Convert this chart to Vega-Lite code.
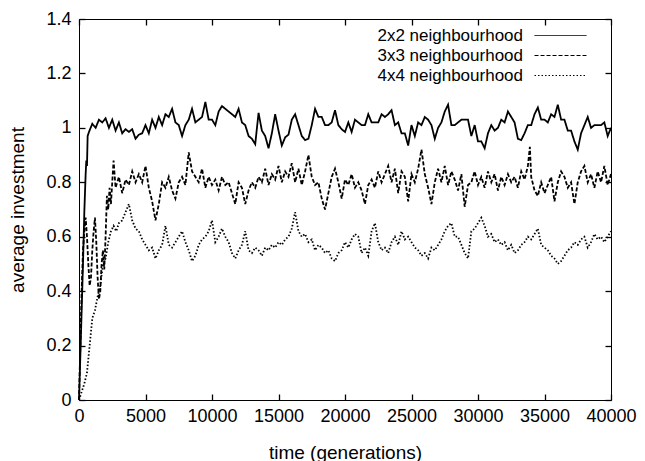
{
"$schema": "https://vega.github.io/schema/vega-lite/v6.json",
"width": 532, "height": 381,
"autosize": {"type": "none"},
"padding": {"left": 79, "top": 19, "right": 34, "bottom": 61},
"config": {
  "view": {"stroke": "black", "strokeWidth": 1},
  "font": "Liberation Sans",
  "axis": {"grid": false, "labelColor": "black", "titleColor": "black", "labelFontSize": 18, "titleFontSize": 19, "titleFontWeight": "normal", "labelFont": "Liberation Sans", "titleFont": "Liberation Sans"}
},
"datasets": {
"d": [
{"t":0,"s":"2x2","v":0},{"t":100,"s":"2x2","v":0.16},{"t":200,"s":"2x2","v":0.33},{"t":300,"s":"2x2","v":0.5},{"t":400,"s":"2x2","v":0.69},{"t":500,"s":"2x2","v":0.83},{"t":550,"s":"2x2","v":0.88},{"t":600,"s":"2x2","v":0.86},{"t":650,"s":"2x2","v":0.97},{"t":750,"s":"2x2","v":0.985},
{"t":1000,"s":"2x2","v":1.015},{"t":1250,"s":"2x2","v":1.0},{"t":1500,"s":"2x2","v":1.03},{"t":1750,"s":"2x2","v":1.02},{"t":2000,"s":"2x2","v":1.035},{"t":2250,"s":"2x2","v":1.0},{"t":2500,"s":"2x2","v":1.03},{"t":2750,"s":"2x2","v":0.99},{"t":3000,"s":"2x2","v":1.02},{"t":3250,"s":"2x2","v":0.98},{"t":3500,"s":"2x2","v":0.995},{"t":3750,"s":"2x2","v":0.985},{"t":4000,"s":"2x2","v":0.995},{"t":4250,"s":"2x2","v":0.96},{"t":4500,"s":"2x2","v":0.975},{"t":4750,"s":"2x2","v":0.98},
{"t":5000,"s":"2x2","v":1.01},{"t":5250,"s":"2x2","v":0.98},{"t":5500,"s":"2x2","v":1.03},{"t":5750,"s":"2x2","v":1.0},{"t":6000,"s":"2x2","v":1.04},{"t":6250,"s":"2x2","v":1.01},{"t":6500,"s":"2x2","v":1.05},{"t":6750,"s":"2x2","v":1.04},{"t":7000,"s":"2x2","v":1.07},{"t":7250,"s":"2x2","v":1.02},{"t":7500,"s":"2x2","v":1.01},{"t":7750,"s":"2x2","v":0.97},{"t":8000,"s":"2x2","v":1.01},{"t":8250,"s":"2x2","v":1.03},{"t":8500,"s":"2x2","v":1.07},{"t":8750,"s":"2x2","v":1.02},{"t":9000,"s":"2x2","v":1.03},{"t":9250,"s":"2x2","v":1.04},{"t":9500,"s":"2x2","v":1.095},{"t":9750,"s":"2x2","v":1.03},
{"t":10000,"s":"2x2","v":1.03},{"t":10250,"s":"2x2","v":1.01},{"t":10500,"s":"2x2","v":1.06},{"t":10750,"s":"2x2","v":1.08},{"t":11000,"s":"2x2","v":1.07},{"t":11250,"s":"2x2","v":1.06},{"t":11500,"s":"2x2","v":1.05},{"t":11750,"s":"2x2","v":1.04},{"t":12000,"s":"2x2","v":1.07},{"t":12250,"s":"2x2","v":1.02},{"t":12500,"s":"2x2","v":1.01},{"t":12750,"s":"2x2","v":0.97},{"t":13000,"s":"2x2","v":0.96},{"t":13250,"s":"2x2","v":0.94},{"t":13500,"s":"2x2","v":1.055},{"t":13750,"s":"2x2","v":0.99},{"t":14000,"s":"2x2","v":0.97},{"t":14250,"s":"2x2","v":0.925},{"t":14500,"s":"2x2","v":0.98},{"t":14750,"s":"2x2","v":1.05},
{"t":15000,"s":"2x2","v":0.99},{"t":15250,"s":"2x2","v":0.935},{"t":15500,"s":"2x2","v":0.965},{"t":15750,"s":"2x2","v":0.975},{"t":16000,"s":"2x2","v":1.03},{"t":16250,"s":"2x2","v":1.05},{"t":16500,"s":"2x2","v":1.01},{"t":16750,"s":"2x2","v":0.97},{"t":17000,"s":"2x2","v":0.955},{"t":17250,"s":"2x2","v":0.96},{"t":17500,"s":"2x2","v":1.01},{"t":17750,"s":"2x2","v":1.07},{"t":18000,"s":"2x2","v":1.04},{"t":18250,"s":"2x2","v":1.04},{"t":18500,"s":"2x2","v":1.01},{"t":18750,"s":"2x2","v":1.01},{"t":19000,"s":"2x2","v":1.02},{"t":19250,"s":"2x2","v":1.065},{"t":19500,"s":"2x2","v":1.01},{"t":19750,"s":"2x2","v":0.995},
{"t":20000,"s":"2x2","v":0.985},{"t":20250,"s":"2x2","v":1.02},{"t":20500,"s":"2x2","v":0.985},{"t":20750,"s":"2x2","v":1.03},{"t":21000,"s":"2x2","v":1.02},{"t":21250,"s":"2x2","v":1.01},{"t":21500,"s":"2x2","v":1.01},{"t":21750,"s":"2x2","v":1.05},{"t":22000,"s":"2x2","v":1.02},{"t":22250,"s":"2x2","v":1.02},{"t":22500,"s":"2x2","v":1.02},{"t":22750,"s":"2x2","v":1.05},{"t":23000,"s":"2x2","v":1.04},{"t":23250,"s":"2x2","v":1.05},{"t":23500,"s":"2x2","v":1.065},{"t":23750,"s":"2x2","v":1.01},{"t":24000,"s":"2x2","v":1.02},{"t":24250,"s":"2x2","v":0.98},{"t":24500,"s":"2x2","v":0.98},{"t":24750,"s":"2x2","v":0.935},
{"t":25000,"s":"2x2","v":1.01},{"t":25250,"s":"2x2","v":0.97},{"t":25500,"s":"2x2","v":1.02},{"t":25750,"s":"2x2","v":1.01},{"t":26000,"s":"2x2","v":1.04},{"t":26250,"s":"2x2","v":1.03},{"t":26500,"s":"2x2","v":1.01},{"t":26750,"s":"2x2","v":0.96},{"t":27000,"s":"2x2","v":1.0},{"t":27250,"s":"2x2","v":1.02},{"t":27500,"s":"2x2","v":1.06},{"t":27750,"s":"2x2","v":1.085},{"t":28000,"s":"2x2","v":1.01},{"t":28250,"s":"2x2","v":1.01},{"t":28500,"s":"2x2","v":1.02},{"t":28750,"s":"2x2","v":1.03},{"t":29000,"s":"2x2","v":1.03},{"t":29250,"s":"2x2","v":1.03},{"t":29500,"s":"2x2","v":0.97},{"t":29750,"s":"2x2","v":1.01},
{"t":30000,"s":"2x2","v":0.95},{"t":30250,"s":"2x2","v":0.95},{"t":30500,"s":"2x2","v":0.925},{"t":30750,"s":"2x2","v":0.98},{"t":31000,"s":"2x2","v":1.01},{"t":31250,"s":"2x2","v":0.99},{"t":31500,"s":"2x2","v":1.0},{"t":31750,"s":"2x2","v":1.03},{"t":32000,"s":"2x2","v":1.02},{"t":32250,"s":"2x2","v":1.06},{"t":32500,"s":"2x2","v":1.04},{"t":32750,"s":"2x2","v":1.02},{"t":33000,"s":"2x2","v":0.96},{"t":33250,"s":"2x2","v":0.955},{"t":33500,"s":"2x2","v":0.98},{"t":33750,"s":"2x2","v":1.01},{"t":34000,"s":"2x2","v":1.01},{"t":34250,"s":"2x2","v":1.05},{"t":34500,"s":"2x2","v":1.075},{"t":34750,"s":"2x2","v":1.03},
{"t":35000,"s":"2x2","v":1.03},{"t":35250,"s":"2x2","v":1.02},{"t":35500,"s":"2x2","v":1.05},{"t":35750,"s":"2x2","v":1.04},{"t":36000,"s":"2x2","v":1.085},{"t":36250,"s":"2x2","v":1.03},{"t":36500,"s":"2x2","v":1.03},{"t":36750,"s":"2x2","v":0.99},{"t":37000,"s":"2x2","v":0.99},{"t":37250,"s":"2x2","v":0.95},{"t":37500,"s":"2x2","v":0.92},{"t":37750,"s":"2x2","v":0.98},{"t":38000,"s":"2x2","v":1.01},{"t":38250,"s":"2x2","v":1.04},{"t":38500,"s":"2x2","v":1.0},{"t":38750,"s":"2x2","v":1.01},{"t":39000,"s":"2x2","v":1.01},{"t":39250,"s":"2x2","v":1.01},{"t":39500,"s":"2x2","v":1.02},{"t":39750,"s":"2x2","v":0.97},{"t":40000,"s":"2x2","v":1.0},

{"t":0,"s":"3x3","v":0},{"t":100,"s":"3x3","v":0.2},{"t":200,"s":"3x3","v":0.4},{"t":300,"s":"3x3","v":0.55},{"t":400,"s":"3x3","v":0.62},{"t":500,"s":"3x3","v":0.67},{"t":600,"s":"3x3","v":0.6},{"t":700,"s":"3x3","v":0.5},{"t":800,"s":"3x3","v":0.42},{"t":900,"s":"3x3","v":0.45},{"t":1000,"s":"3x3","v":0.55},{"t":1100,"s":"3x3","v":0.62},{"t":1200,"s":"3x3","v":0.67},{"t":1300,"s":"3x3","v":0.58},{"t":1400,"s":"3x3","v":0.45},{"t":1500,"s":"3x3","v":0.37},{"t":1600,"s":"3x3","v":0.4},{"t":1700,"s":"3x3","v":0.5},{"t":1800,"s":"3x3","v":0.55},{"t":1900,"s":"3x3","v":0.48},{"t":2000,"s":"3x3","v":0.6},{"t":2100,"s":"3x3","v":0.75},{"t":2200,"s":"3x3","v":0.7},{"t":2300,"s":"3x3","v":0.78},{"t":2400,"s":"3x3","v":0.72},{"t":2500,"s":"3x3","v":0.8},{"t":2600,"s":"3x3","v":0.88},{"t":2750,"s":"3x3","v":0.78},
{"t":3000,"s":"3x3","v":0.82},{"t":3250,"s":"3x3","v":0.76},{"t":3500,"s":"3x3","v":0.81},{"t":3750,"s":"3x3","v":0.79},{"t":4000,"s":"3x3","v":0.84},{"t":4250,"s":"3x3","v":0.8},{"t":4500,"s":"3x3","v":0.83},{"t":4750,"s":"3x3","v":0.8},{"t":5000,"s":"3x3","v":0.86},{"t":5250,"s":"3x3","v":0.78},{"t":5500,"s":"3x3","v":0.73},{"t":5750,"s":"3x3","v":0.66},{"t":6000,"s":"3x3","v":0.72},{"t":6250,"s":"3x3","v":0.8},{"t":6500,"s":"3x3","v":0.78},{"t":6750,"s":"3x3","v":0.82},{"t":7000,"s":"3x3","v":0.77},{"t":7250,"s":"3x3","v":0.74},{"t":7500,"s":"3x3","v":0.8},{"t":7750,"s":"3x3","v":0.82},{"t":8000,"s":"3x3","v":0.79},{"t":8250,"s":"3x3","v":0.91},{"t":8500,"s":"3x3","v":0.84},{"t":8750,"s":"3x3","v":0.82},{"t":9000,"s":"3x3","v":0.8},{"t":9250,"s":"3x3","v":0.85},{"t":9500,"s":"3x3","v":0.78},{"t":9750,"s":"3x3","v":0.82},
{"t":10000,"s":"3x3","v":0.79},{"t":10250,"s":"3x3","v":0.81},{"t":10500,"s":"3x3","v":0.77},{"t":10750,"s":"3x3","v":0.82},{"t":11000,"s":"3x3","v":0.79},{"t":11250,"s":"3x3","v":0.8},{"t":11500,"s":"3x3","v":0.76},{"t":11750,"s":"3x3","v":0.72},{"t":12000,"s":"3x3","v":0.8},{"t":12250,"s":"3x3","v":0.78},{"t":12500,"s":"3x3","v":0.72},{"t":12750,"s":"3x3","v":0.77},{"t":13000,"s":"3x3","v":0.8},{"t":13250,"s":"3x3","v":0.78},{"t":13500,"s":"3x3","v":0.82},{"t":13750,"s":"3x3","v":0.8},{"t":14000,"s":"3x3","v":0.85},{"t":14250,"s":"3x3","v":0.79},{"t":14500,"s":"3x3","v":0.83},{"t":14750,"s":"3x3","v":0.81},
{"t":15000,"s":"3x3","v":0.86},{"t":15250,"s":"3x3","v":0.8},{"t":15500,"s":"3x3","v":0.84},{"t":15750,"s":"3x3","v":0.82},{"t":16000,"s":"3x3","v":0.87},{"t":16250,"s":"3x3","v":0.8},{"t":16500,"s":"3x3","v":0.85},{"t":16750,"s":"3x3","v":0.79},{"t":17000,"s":"3x3","v":0.84},{"t":17250,"s":"3x3","v":0.9},{"t":17500,"s":"3x3","v":0.82},{"t":17750,"s":"3x3","v":0.79},{"t":18000,"s":"3x3","v":0.8},{"t":18250,"s":"3x3","v":0.74},{"t":18500,"s":"3x3","v":0.7},{"t":18750,"s":"3x3","v":0.76},{"t":19000,"s":"3x3","v":0.82},{"t":19250,"s":"3x3","v":0.85},{"t":19500,"s":"3x3","v":0.8},{"t":19750,"s":"3x3","v":0.74},
{"t":20000,"s":"3x3","v":0.81},{"t":20250,"s":"3x3","v":0.79},{"t":20500,"s":"3x3","v":0.83},{"t":20750,"s":"3x3","v":0.78},{"t":21000,"s":"3x3","v":0.8},{"t":21250,"s":"3x3","v":0.77},{"t":21500,"s":"3x3","v":0.72},{"t":21750,"s":"3x3","v":0.79},{"t":22000,"s":"3x3","v":0.81},{"t":22250,"s":"3x3","v":0.78},{"t":22500,"s":"3x3","v":0.84},{"t":22750,"s":"3x3","v":0.8},{"t":23000,"s":"3x3","v":0.83},{"t":23250,"s":"3x3","v":0.86},{"t":23500,"s":"3x3","v":0.8},{"t":23750,"s":"3x3","v":0.85},{"t":24000,"s":"3x3","v":0.76},{"t":24250,"s":"3x3","v":0.84},{"t":24500,"s":"3x3","v":0.82},{"t":24750,"s":"3x3","v":0.73},
{"t":25000,"s":"3x3","v":0.83},{"t":25250,"s":"3x3","v":0.8},{"t":25500,"s":"3x3","v":0.85},{"t":25750,"s":"3x3","v":0.92},{"t":26000,"s":"3x3","v":0.83},{"t":26250,"s":"3x3","v":0.78},{"t":26500,"s":"3x3","v":0.72},{"t":26750,"s":"3x3","v":0.8},{"t":27000,"s":"3x3","v":0.85},{"t":27250,"s":"3x3","v":0.8},{"t":27500,"s":"3x3","v":0.86},{"t":27750,"s":"3x3","v":0.79},{"t":28000,"s":"3x3","v":0.84},{"t":28250,"s":"3x3","v":0.81},{"t":28500,"s":"3x3","v":0.77},{"t":28750,"s":"3x3","v":0.83},{"t":29000,"s":"3x3","v":0.71},{"t":29250,"s":"3x3","v":0.79},{"t":29500,"s":"3x3","v":0.8},{"t":29750,"s":"3x3","v":0.84},
{"t":30000,"s":"3x3","v":0.79},{"t":30250,"s":"3x3","v":0.82},{"t":30500,"s":"3x3","v":0.78},{"t":30750,"s":"3x3","v":0.84},{"t":31000,"s":"3x3","v":0.8},{"t":31250,"s":"3x3","v":0.83},{"t":31500,"s":"3x3","v":0.77},{"t":31750,"s":"3x3","v":0.82},{"t":32000,"s":"3x3","v":0.79},{"t":32250,"s":"3x3","v":0.83},{"t":32500,"s":"3x3","v":0.8},{"t":32750,"s":"3x3","v":0.82},{"t":33000,"s":"3x3","v":0.78},{"t":33250,"s":"3x3","v":0.84},{"t":33500,"s":"3x3","v":0.81},{"t":33750,"s":"3x3","v":0.86},{"t":33900,"s":"3x3","v":0.93},{"t":34000,"s":"3x3","v":0.82},{"t":34250,"s":"3x3","v":0.77},{"t":34500,"s":"3x3","v":0.75},{"t":34750,"s":"3x3","v":0.8},
{"t":35000,"s":"3x3","v":0.76},{"t":35250,"s":"3x3","v":0.79},{"t":35500,"s":"3x3","v":0.82},{"t":35750,"s":"3x3","v":0.73},{"t":36000,"s":"3x3","v":0.8},{"t":36250,"s":"3x3","v":0.84},{"t":36500,"s":"3x3","v":0.82},{"t":36750,"s":"3x3","v":0.78},{"t":37000,"s":"3x3","v":0.8},{"t":37250,"s":"3x3","v":0.72},{"t":37500,"s":"3x3","v":0.8},{"t":37750,"s":"3x3","v":0.84},{"t":38000,"s":"3x3","v":0.86},{"t":38250,"s":"3x3","v":0.8},{"t":38500,"s":"3x3","v":0.83},{"t":38750,"s":"3x3","v":0.78},{"t":39000,"s":"3x3","v":0.84},{"t":39250,"s":"3x3","v":0.8},{"t":39500,"s":"3x3","v":0.86},{"t":39750,"s":"3x3","v":0.79},{"t":40000,"s":"3x3","v":0.83},

{"t":0,"s":"4x4","v":0},{"t":200,"s":"4x4","v":0.03},{"t":400,"s":"4x4","v":0.06},{"t":600,"s":"4x4","v":0.1},{"t":800,"s":"4x4","v":0.2},{"t":1000,"s":"4x4","v":0.3},{"t":1200,"s":"4x4","v":0.33},{"t":1400,"s":"4x4","v":0.38},{"t":1600,"s":"4x4","v":0.42},{"t":1800,"s":"4x4","v":0.5},{"t":2000,"s":"4x4","v":0.52},{"t":2200,"s":"4x4","v":0.58},{"t":2400,"s":"4x4","v":0.62},{"t":2600,"s":"4x4","v":0.64},{"t":2800,"s":"4x4","v":0.62},{"t":3000,"s":"4x4","v":0.65},{"t":3250,"s":"4x4","v":0.66},{"t":3500,"s":"4x4","v":0.69},{"t":3750,"s":"4x4","v":0.72},{"t":4000,"s":"4x4","v":0.66},{"t":4250,"s":"4x4","v":0.63},{"t":4500,"s":"4x4","v":0.62},{"t":4750,"s":"4x4","v":0.59},
{"t":5000,"s":"4x4","v":0.57},{"t":5250,"s":"4x4","v":0.55},{"t":5500,"s":"4x4","v":0.56},{"t":5750,"s":"4x4","v":0.52},{"t":6000,"s":"4x4","v":0.55},{"t":6250,"s":"4x4","v":0.57},{"t":6500,"s":"4x4","v":0.64},{"t":6750,"s":"4x4","v":0.57},{"t":7000,"s":"4x4","v":0.56},{"t":7250,"s":"4x4","v":0.58},{"t":7500,"s":"4x4","v":0.6},{"t":7750,"s":"4x4","v":0.62},{"t":8000,"s":"4x4","v":0.58},{"t":8250,"s":"4x4","v":0.55},{"t":8500,"s":"4x4","v":0.51},{"t":8750,"s":"4x4","v":0.53},{"t":9000,"s":"4x4","v":0.57},{"t":9250,"s":"4x4","v":0.59},{"t":9500,"s":"4x4","v":0.6},{"t":9750,"s":"4x4","v":0.62},
{"t":10000,"s":"4x4","v":0.66},{"t":10250,"s":"4x4","v":0.58},{"t":10500,"s":"4x4","v":0.6},{"t":10750,"s":"4x4","v":0.63},{"t":11000,"s":"4x4","v":0.6},{"t":11250,"s":"4x4","v":0.58},{"t":11500,"s":"4x4","v":0.54},{"t":11750,"s":"4x4","v":0.52},{"t":12000,"s":"4x4","v":0.55},{"t":12250,"s":"4x4","v":0.57},{"t":12500,"s":"4x4","v":0.62},{"t":12750,"s":"4x4","v":0.55},{"t":13000,"s":"4x4","v":0.54},{"t":13250,"s":"4x4","v":0.56},{"t":13500,"s":"4x4","v":0.55},{"t":13750,"s":"4x4","v":0.53},{"t":14000,"s":"4x4","v":0.56},{"t":14250,"s":"4x4","v":0.55},{"t":14500,"s":"4x4","v":0.57},{"t":14750,"s":"4x4","v":0.56},
{"t":15000,"s":"4x4","v":0.58},{"t":15250,"s":"4x4","v":0.57},{"t":15500,"s":"4x4","v":0.59},{"t":15750,"s":"4x4","v":0.6},{"t":16000,"s":"4x4","v":0.63},{"t":16250,"s":"4x4","v":0.69},{"t":16500,"s":"4x4","v":0.62},{"t":16750,"s":"4x4","v":0.6},{"t":17000,"s":"4x4","v":0.61},{"t":17250,"s":"4x4","v":0.58},{"t":17500,"s":"4x4","v":0.59},{"t":17750,"s":"4x4","v":0.55},{"t":18000,"s":"4x4","v":0.57},{"t":18250,"s":"4x4","v":0.56},{"t":18500,"s":"4x4","v":0.54},{"t":18750,"s":"4x4","v":0.55},{"t":19000,"s":"4x4","v":0.52},{"t":19250,"s":"4x4","v":0.51},{"t":19500,"s":"4x4","v":0.54},{"t":19750,"s":"4x4","v":0.55},
{"t":20000,"s":"4x4","v":0.58},{"t":20250,"s":"4x4","v":0.56},{"t":20500,"s":"4x4","v":0.59},{"t":20750,"s":"4x4","v":0.61},{"t":21000,"s":"4x4","v":0.6},{"t":21250,"s":"4x4","v":0.54},{"t":21500,"s":"4x4","v":0.56},{"t":21750,"s":"4x4","v":0.53},{"t":22000,"s":"4x4","v":0.62},{"t":22250,"s":"4x4","v":0.65},{"t":22500,"s":"4x4","v":0.58},{"t":22750,"s":"4x4","v":0.55},{"t":23000,"s":"4x4","v":0.56},{"t":23250,"s":"4x4","v":0.54},{"t":23500,"s":"4x4","v":0.58},{"t":23750,"s":"4x4","v":0.6},{"t":24000,"s":"4x4","v":0.57},{"t":24250,"s":"4x4","v":0.62},{"t":24500,"s":"4x4","v":0.59},{"t":24750,"s":"4x4","v":0.6},
{"t":25000,"s":"4x4","v":0.58},{"t":25250,"s":"4x4","v":0.56},{"t":25500,"s":"4x4","v":0.55},{"t":25750,"s":"4x4","v":0.53},{"t":26000,"s":"4x4","v":0.54},{"t":26250,"s":"4x4","v":0.52},{"t":26500,"s":"4x4","v":0.56},{"t":26750,"s":"4x4","v":0.55},{"t":27000,"s":"4x4","v":0.57},{"t":27250,"s":"4x4","v":0.59},{"t":27500,"s":"4x4","v":0.62},{"t":27750,"s":"4x4","v":0.64},{"t":28000,"s":"4x4","v":0.65},{"t":28250,"s":"4x4","v":0.6},{"t":28500,"s":"4x4","v":0.6},{"t":28750,"s":"4x4","v":0.57},{"t":29000,"s":"4x4","v":0.54},{"t":29250,"s":"4x4","v":0.52},{"t":29500,"s":"4x4","v":0.62},{"t":29750,"s":"4x4","v":0.63},
{"t":30000,"s":"4x4","v":0.65},{"t":30250,"s":"4x4","v":0.67},{"t":30500,"s":"4x4","v":0.64},{"t":30750,"s":"4x4","v":0.6},{"t":31000,"s":"4x4","v":0.61},{"t":31250,"s":"4x4","v":0.58},{"t":31500,"s":"4x4","v":0.59},{"t":31750,"s":"4x4","v":0.57},{"t":32000,"s":"4x4","v":0.58},{"t":32250,"s":"4x4","v":0.55},{"t":32500,"s":"4x4","v":0.57},{"t":32750,"s":"4x4","v":0.54},{"t":33000,"s":"4x4","v":0.55},{"t":33250,"s":"4x4","v":0.57},{"t":33500,"s":"4x4","v":0.58},{"t":33750,"s":"4x4","v":0.6},{"t":34000,"s":"4x4","v":0.59},{"t":34250,"s":"4x4","v":0.61},{"t":34500,"s":"4x4","v":0.63},{"t":34750,"s":"4x4","v":0.57},
{"t":35000,"s":"4x4","v":0.56},{"t":35250,"s":"4x4","v":0.55},{"t":35500,"s":"4x4","v":0.53},{"t":35750,"s":"4x4","v":0.52},{"t":36000,"s":"4x4","v":0.5},{"t":36250,"s":"4x4","v":0.51},{"t":36500,"s":"4x4","v":0.53},{"t":36750,"s":"4x4","v":0.55},{"t":37000,"s":"4x4","v":0.56},{"t":37250,"s":"4x4","v":0.58},{"t":37500,"s":"4x4","v":0.57},{"t":37750,"s":"4x4","v":0.59},{"t":38000,"s":"4x4","v":0.6},{"t":38250,"s":"4x4","v":0.56},{"t":38500,"s":"4x4","v":0.58},{"t":38750,"s":"4x4","v":0.61},{"t":39000,"s":"4x4","v":0.59},{"t":39250,"s":"4x4","v":0.6},{"t":39500,"s":"4x4","v":0.58},{"t":39750,"s":"4x4","v":0.6},{"t":40000,"s":"4x4","v":0.62}
]
},
"data": {"name": "d"},
"layer": [
  {
    "mark": {"type": "line", "color": "black", "strokeWidth": 1.8},
    "encoding": {
      "x": {"field": "t", "type": "quantitative", "scale": {"domain": [0, 40000], "nice": false, "zero": false},
            "axis": {"values": [0, 5000, 10000, 15000, 20000, 25000, 30000, 35000, 40000], "format": "d", "title": "time (generations)", "domain": false, "ticks": true, "tickSize": 6, "tickWidth": 1.3, "tickColor": "black", "offset": -6, "labelPadding": 7, "titlePadding": 18, "labelFlush": false}},
      "y": {"field": "v", "type": "quantitative", "scale": {"domain": [0, 1.4], "nice": false},
            "axis": {"values": [0, 0.2, 0.4, 0.6, 0.8, 1, 1.2, 1.4], "format": "~g", "title": "average investment", "domain": false, "ticks": true, "tickSize": 6, "tickWidth": 1.3, "tickColor": "black", "offset": -6, "labelPadding": 8, "titlePadding": 18}},
      "strokeDash": {"field": "s", "type": "nominal",
        "scale": {"domain": ["2x2", "3x3", "4x4"], "range": [[1, 0], [4, 2], [1.5, 2]]},
        "legend": {"title": null, "orient": "none", "legendX": 472, "legendY": 7, "padding": 0, "symbolType": "M-3,0H3", "symbolSize": 300, "symbolStrokeWidth": 1, "symbolStrokeColor": "black", "labelAlign": "right", "labelOffset": -47, "labelFontSize": 17, "labelFont": "Liberation Sans", "labelColor": "black", "rowPadding": 2, "labelExpr": "datum.label + ' neighbourhood'"}
      }
    }
  },
  {
    "mark": {"type": "line", "opacity": 0},
    "encoding": {
      "x": {"field": "t", "type": "quantitative", "axis": {"orient": "top", "values": [0, 5000, 10000, 15000, 20000, 25000, 30000, 35000, 40000], "labels": false, "title": null, "domain": false, "ticks": true, "tickSize": 6, "tickWidth": 1.3, "tickColor": "black", "offset": -6}},
      "y": {"field": "v", "type": "quantitative", "axis": {"orient": "right", "values": [0, 0.2, 0.4, 0.6, 0.8, 1, 1.2, 1.4], "labels": false, "title": null, "domain": false, "ticks": true, "tickSize": 6, "tickWidth": 1.3, "tickColor": "black", "offset": -6}},
      "detail": {"field": "s", "type": "nominal"}
    }
  }
],
"resolve": {"axis": {"x": "independent", "y": "independent"}}
}
